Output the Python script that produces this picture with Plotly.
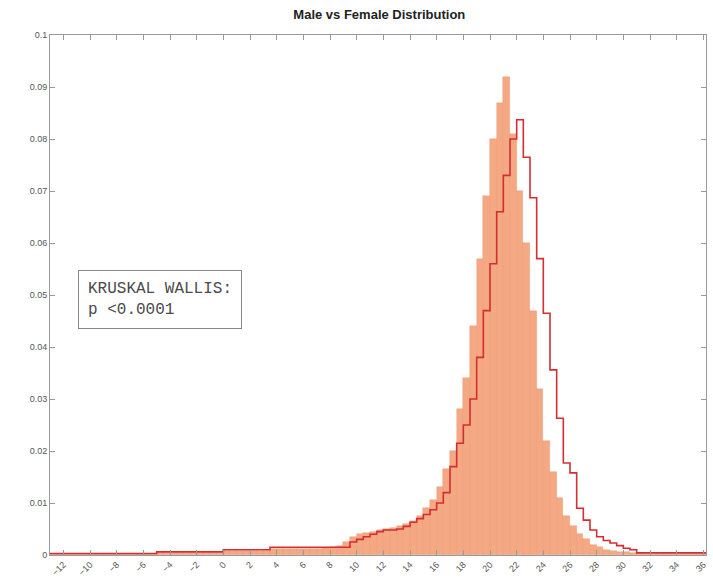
import numpy as np
import plotly.graph_objects as go

# Histogram bins: width 0.5, keyed by left bin edge; values are normalised probabilities
bin_width = 0.5
bin_left = np.arange(-13.0, 36.0 + 1e-9, 0.5)

# Female distribution (filled bars)
female_vals = {
    7.0: 0.0012, 7.5: 0.0013, 8.0: 0.0015, 8.5: 0.0018, 9.0: 0.0025,
    9.5: 0.0035, 10.0: 0.0040, 10.5: 0.0042, 11.0: 0.0045, 11.5: 0.0048,
    12.0: 0.0050, 12.5: 0.0052, 13.0: 0.0055, 13.5: 0.0060, 14.0: 0.0065,
    14.5: 0.0075, 15.0: 0.0090, 15.5: 0.0105, 16.0: 0.0130, 16.5: 0.0165,
    17.0: 0.0200, 17.5: 0.0280, 18.0: 0.0340, 18.5: 0.0440, 19.0: 0.0570,
    19.5: 0.0690, 20.0: 0.0800, 20.5: 0.0870, 21.0: 0.0920, 21.5: 0.0810,
    22.0: 0.0700, 22.5: 0.0600, 23.0: 0.0470, 23.5: 0.0320, 24.0: 0.0220,
    24.5: 0.0160, 25.0: 0.0110, 25.5: 0.0075, 26.0: 0.0055, 26.5: 0.0040,
    27.0: 0.0030, 27.5: 0.0020, 28.0: 0.0015, 28.5: 0.0010, 29.0: 0.0008,
    29.5: 0.0006, 30.0: 0.0005, 30.5: 0.0004, 31.0: 0.0003, 31.5: 0.0002,
    32.0: 0.0001,
}
# Male distribution (stairs outline)
male_vals = {
    9.5: 0.0025, 10.0: 0.0030, 10.5: 0.0035, 11.0: 0.0040, 11.5: 0.0045,
    12.0: 0.0048, 12.5: 0.0048, 13.0: 0.0050, 13.5: 0.0055, 14.0: 0.0063,
    14.5: 0.0070, 15.0: 0.0078, 15.5: 0.0087, 16.0: 0.0100, 16.5: 0.0120,
    17.0: 0.0170, 17.5: 0.0215, 18.0: 0.0250, 18.5: 0.0300, 19.0: 0.0380,
    19.5: 0.0470, 20.0: 0.0560, 20.5: 0.0660, 21.0: 0.0730, 21.5: 0.0800,
    22.0: 0.0837, 22.5: 0.0765, 23.0: 0.0687, 23.5: 0.0570, 24.0: 0.0465,
    24.5: 0.0356, 25.0: 0.0263, 25.5: 0.0177, 26.0: 0.0158, 26.5: 0.0090,
    27.0: 0.0067, 27.5: 0.0048, 28.0: 0.0035, 28.5: 0.0028, 29.0: 0.0023,
    29.5: 0.0018, 30.0: 0.0013, 30.5: 0.0010,
}

# Low, nearly flat tails outside the tabulated ranges
tail_levels = [(-5.0, 0.0003), (0.0, 0.0006), (3.5, 0.0010), (9.5, 0.0015), (99.0, 0.0004)]

def tail_male(x):
    for upper, level in tail_levels:
        if x < upper:
            return level
    return 0.0004

female = [female_vals.get(round(b, 1), 0.8 * tail_male(b) if b < 9.5 else 0.0001) for b in bin_left]
male = [male_vals.get(round(b, 1), tail_male(b)) for b in bin_left]

x_ticks = list(range(-12, 37, 2))
y_ticks = [0, 0.01, 0.02, 0.03, 0.04, 0.05, 0.06, 0.07, 0.08, 0.09, 0.1]
y_tick_text = ["0", "0.01", "0.02", "0.03", "0.04", "0.05", "0.06", "0.07", "0.08", "0.09", "0.1"]

centers = bin_left + bin_width / 2
edges = np.concatenate([bin_left, [bin_left[-1] + bin_width]])
stair_y = list(male) + [male[-1]]

fig = go.Figure()
fig.add_trace(go.Bar(
    x=centers, y=female, width=bin_width,
    marker=dict(color="rgb(245,169,130)",
                line=dict(color="rgba(215,120,85,0.4)", width=0.6)),
    name="Female", showlegend=False,
))
fig.add_trace(go.Scatter(
    x=edges, y=stair_y, mode="lines", line_shape="hv",
    line=dict(color="rgb(212,46,50)", width=1.6),
    name="Male", showlegend=False,
))

fig.add_annotation(
    xref="paper", yref="paper", x=0.043, y=0.548,
    xanchor="left", yanchor="top", showarrow=False, align="left",
    text="KRUSKAL WALLIS:<br>p &lt;0.0001",
    font=dict(family="Liberation Mono, Courier New, monospace", size=16, color="#4a4a4a"),
    bordercolor="#888", borderwidth=1, borderpad=9, bgcolor="white",
)

axis_common = dict(
    showline=True, linecolor="#9a9a9a", linewidth=1, mirror="allticks",
    ticks="inside", ticklen=5, tickcolor="#9a9a9a", showgrid=False, zeroline=False,
    tickfont=dict(family="Liberation Sans, Arial, sans-serif", size=9, color="#555"),
)

fig.update_layout(
    width=713, height=583,
    margin=dict(l=50, r=5, t=35, b=28),
    paper_bgcolor="white", plot_bgcolor="white",
    bargap=0,
    title=dict(text="<b>Male vs Female Distribution</b>", x=0.532, xanchor="center",
               y=0.975, yanchor="middle",
               font=dict(family="Liberation Sans, Arial, sans-serif", size=13, color="#222")),
    xaxis=dict(range=[-13, 36.2], tickvals=x_ticks, tickangle=-45, **axis_common),
    yaxis=dict(range=[0, 0.1], tickvals=y_ticks, ticktext=y_tick_text, **axis_common),
)

fig.write_html("out.html")
